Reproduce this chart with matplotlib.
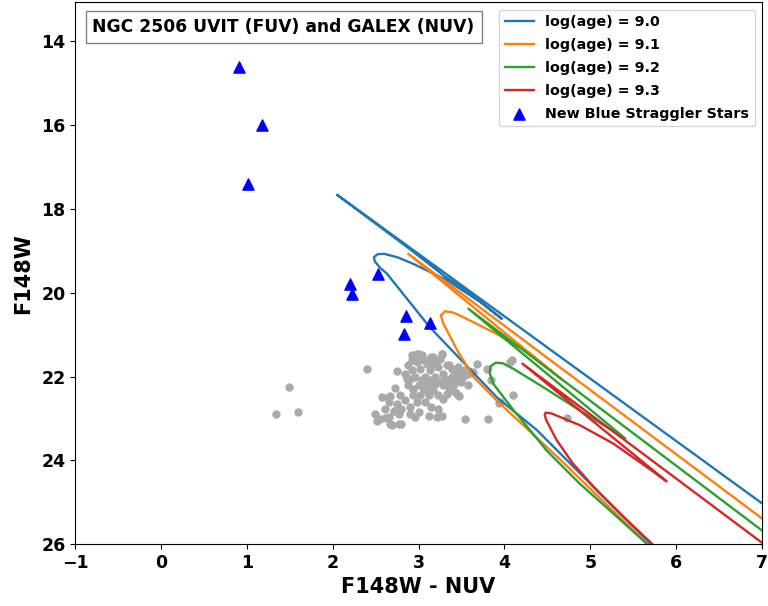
import numpy as np
import matplotlib
matplotlib.use('Agg')
import matplotlib.pyplot as plt

ages = ['9.0', '9.1', '9.2', '9.3']
iso_colors = ['tab:blue', 'tab:orange', 'tab:green', 'tab:red']

iso_90_x = [5.85, 5.70, 4.38, 3.91, 3.13, 2.63, 2.55, 2.49, 2.48, 2.52, 2.60, 2.75, 2.94,
            3.33, 3.72, 3.97, 3.60, 3.30, 2.90, 2.05, 7.20]
iso_90_y = [26.30, 25.99, 23.28, 22.49, 20.82, 19.54, 19.40, 19.25, 19.15, 19.08, 19.07, 19.15,
            19.31, 19.70, 20.22, 20.62, 20.02, 19.60, 18.96, 17.66, 25.32]

iso_91_x = [5.81, 5.66, 4.65, 3.91, 3.64, 3.45, 3.29, 3.26, 3.31, 3.40, 3.52, 3.91, 4.30,
            4.67, 2.88, 7.20]
iso_91_y = [26.30, 25.99, 23.98, 22.57, 22.01, 21.37, 20.74, 20.54, 20.44, 20.47, 20.58, 20.98,
            21.45, 22.07, 19.07, 25.69]

iso_92_x = [5.85, 5.66, 5.27, 4.88, 4.49, 4.30, 4.11, 3.99, 3.87, 3.83, 3.84, 3.90, 3.98,
            4.11, 4.49, 4.88, 5.41, 3.58, 7.20]
iso_92_y = [26.30, 25.99, 25.27, 24.56, 23.76, 23.28, 22.81, 22.49, 22.17, 21.93, 21.75, 21.67,
            21.68, 21.82, 22.30, 22.81, 23.48, 20.38, 25.98]

iso_93_x = [5.86, 5.72, 5.39, 5.08, 4.80, 4.61, 4.49, 4.47, 4.48, 4.55, 4.88, 5.27, 5.66,
            5.89, 4.21, 7.20]
iso_93_y = [26.30, 25.99, 25.35, 24.72, 24.08, 23.52, 23.05, 22.92, 22.86, 22.88, 23.16, 23.60,
            24.16, 24.50, 21.69, 26.27]

iso_x = [iso_90_x, iso_91_x, iso_92_x, iso_93_x]
iso_y = [iso_90_y, iso_91_y, iso_92_y, iso_93_y]

# New blue straggler stars
bss_color = [0.91, 1.17, 1.01, 2.20, 2.23, 2.53, 2.85, 2.83, 3.13]
bss_mag = [14.62, 16.00, 17.41, 19.80, 20.04, 19.54, 20.56, 20.99, 20.73]

# Cluster members (grey)
mem_color = [1.49, 1.34, 1.60, 2.40, 2.75, 2.72, 3.27, 3.54, 3.81, 3.58, 3.47, 3.94,
             4.09, 3.80, 4.10, 4.73, 4.07, 3.95, 3.84, 3.68,
             2.98, 3.04, 3.15, 3.27, 2.92, 3.10, 3.19, 3.02, 2.92, 3.13, 3.23, 3.35,
             3.43, 3.29, 2.96, 3.08, 3.19, 3.31, 3.39, 3.50, 3.58, 2.86, 2.88, 3.00,
             3.10, 3.19, 3.29, 3.41, 3.50, 3.60, 2.94, 3.06, 3.17, 3.35, 3.02, 3.12,
             3.23, 3.33, 3.43, 3.29, 3.46, 2.57, 2.67, 2.78, 2.65, 2.75, 2.84, 2.61,
             2.71, 2.80, 2.90, 2.49, 2.65, 2.77, 2.90, 3.00, 2.55, 2.69, 2.77, 2.96,
             3.12, 3.15, 3.23, 3.21, 3.27, 2.88, 2.98, 3.06, 3.15, 3.25, 3.39, 3.46,
             3.54, 2.84, 3.04, 3.15, 3.25, 2.94, 2.90, 3.08, 2.98, 3.10, 3.33, 3.45,
             3.33, 3.48, 3.64, 3.52, 2.92, 3.00, 3.17, 2.51, 2.61, 2.67, 2.80, 2.65]
mem_mag = [22.25, 22.89, 22.85, 21.83, 21.87, 22.27, 21.45, 23.02, 23.02, 22.19, 22.47, 22.63,
           21.61, 21.81, 22.45, 23.00, 21.64, 22.60, 22.07, 21.71,
           21.45, 21.49, 21.53, 21.45, 21.61, 21.69, 21.61, 21.81, 21.85, 21.85, 21.77, 21.73,
           21.89, 21.93, 22.01, 22.01, 22.01, 22.05, 22.01, 21.97, 21.93, 22.05, 22.21, 22.21,
           22.17, 22.17, 22.21, 22.17, 22.13, 21.89, 22.29, 22.33, 22.33, 22.29, 22.45, 22.45,
           22.45, 22.41, 22.37, 22.53, 22.45, 22.49, 22.46, 22.45, 22.61, 22.65, 22.57, 22.77,
           22.81, 22.77, 22.73, 22.89, 22.97, 22.89, 22.89, 22.85, 23.01, 23.16, 23.13, 22.97,
           22.93, 22.73, 22.77, 22.97, 22.93, 21.73, 21.65, 21.61, 21.73, 21.57, 21.81, 21.77,
           21.85, 21.93, 22.09, 22.09, 22.13, 22.45, 22.05, 22.61, 22.61, 22.25, 22.13, 22.05,
           21.73, 21.85, 21.89, 22.01, 21.49, 21.45, 21.53, 23.05, 23.00, 23.12, 23.12, 22.49]


def main():
    fig = plt.figure(figsize=(7.68, 6.06), dpi=100)
    ax = fig.add_axes([0.098, 0.102, 0.894, 0.894])

    ax.scatter(mem_color, mem_mag, s=25, color='darkgray', zorder=2)

    for age, c, xs, ys in zip(ages, iso_colors, iso_x, iso_y):
        ax.plot(xs, ys, color=c, lw=1.7, label=f'log(age) = {age}', zorder=3)

    ax.scatter(bss_color, bss_mag, marker='^', s=65, color='blue',
               label='New Blue Straggler Stars', zorder=4)

    ax.set_xlim(-1, 7)
    ax.set_ylim(26, 13.07)
    ax.set_xlabel('F148W - NUV', fontsize=15, fontweight='bold')
    ax.set_ylabel('F148W', fontsize=15, fontweight='bold', labelpad=6)
    ax.tick_params(labelsize=12.5)
    for lab in ax.get_xticklabels() + ax.get_yticklabels():
        lab.set_fontweight('bold')

    ax.text(0.025, 0.971, 'NGC 2506 UVIT (FUV) and GALEX (NUV)', transform=ax.transAxes,
            fontsize=12.3, fontweight='bold', va='top', ha='left',
            bbox=dict(facecolor='white', edgecolor='gray', boxstyle='square,pad=0.4'))

    ax.legend(loc='upper right', prop={'weight': 'bold', 'size': 10.3}, labelspacing=0.62)

    fig.savefig('out.png', dpi=100)
    plt.close(fig)


if __name__ == '__main__':
    main()
